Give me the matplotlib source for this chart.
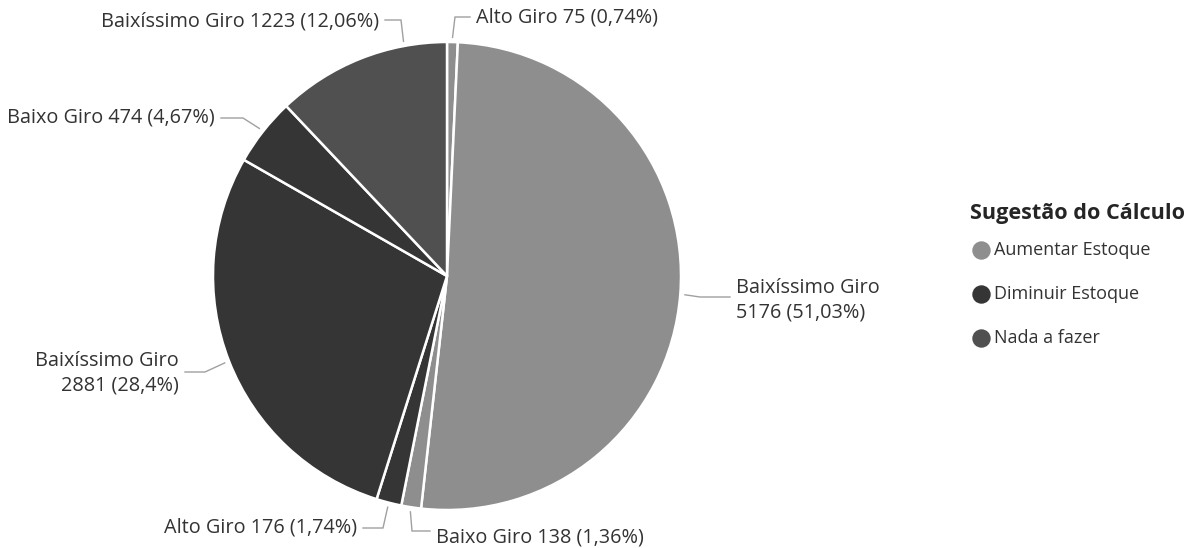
import numpy as np
import matplotlib
matplotlib.use("Agg")
import matplotlib.pyplot as plt

# ---- data ----
labels = ["Alto Giro", "Baixíssimo Giro", "Baixo Giro",
          "Alto Giro", "Baixíssimo Giro", "Baixo Giro",
          "Baixíssimo Giro"]
values = [75, 5176, 138, 176, 2881, 474, 1223]
pct_text = ["0,74%", "51,03%", "1,36%", "1,74%", "28,4%", "4,67%", "12,06%"]
groups = ["Aumentar Estoque", "Aumentar Estoque", "Aumentar Estoque",
          "Diminuir Estoque", "Diminuir Estoque", "Diminuir Estoque",
          "Nada a fazer"]
legend_title = "Sugestão do Cálculo"
legend_items = ["Aumentar Estoque", "Diminuir Estoque", "Nada a fazer"]

# ---- style ----
colors = {"Aumentar Estoque": "#8e8e8e",
          "Diminuir Estoque": "#353535",
          "Nada a fazer": "#505050"}
FONT = ["Open Sans", "DejaVu Sans"]
plt.rcParams['font.family'] = FONT
W, H = 1200, 548
CX, CY, R = 447, 276, 234   # pixel coords (top-down y)

def py(y):  # top-down pixel -> data
    return H - y

fig = plt.figure(figsize=(12, 5.48), dpi=100)
ax = fig.add_axes([0, 0, 1, 1])

wedges, _ = ax.pie(values, colors=[colors[g] for g in groups],
                   startangle=90, counterclock=False,
                   center=(CX, py(CY)), radius=R,
                   wedgeprops=dict(edgecolor="white", linewidth=1.8),
                   frame=True)
ax.set_xlim(0, W)
ax.set_ylim(0, H)
ax.set_aspect("equal")
ax.axis("off")

# label layout: elbow point (top-down px), side, horizontal length, text y,
# optional anchor angle (deg) on the rim
layout = [
    dict(ex=455, ey=17, side=1, hl=15, two=False, ty=17),
    dict(ex=700, ey=297, side=1, hl=30, two=True, ty=300),
    dict(ex=412, ey=531, side=1, hl=18, two=False, ty=537),
    dict(ex=383, ey=528, side=-1, hl=20, two=False, ty=528),
    dict(ex=205, ey=372, side=-1, hl=20, two=True, ty=373),
    dict(ex=243, ey=118, side=-1, hl=22, two=False, ty=118),
    dict(ex=401, ey=20, side=-1, hl=16, two=False, ty=22, anchor=100.5),
]
line_c = "#a0a0a0"
text_c = "#333333"
fs = 14.3

for w, lab, v, p, lo in zip(wedges, labels, values, pct_text, layout):
    a_deg = lo.get("anchor", (w.theta1 + w.theta2) / 2)
    ang = np.deg2rad(a_deg)
    c, s = np.cos(ang), np.sin(ang)
    x0, y0 = CX + R * 1.02 * c, CY - R * 1.02 * s
    ex, ey = lo["ex"], lo["ey"]
    hx = ex + lo["side"] * lo["hl"]
    ax.plot([x0, ex, hx], [py(y0), py(ey), py(ey)], color=line_c, lw=1.0,
            solid_joinstyle="miter")
    tx = hx + 6 * lo["side"]
    ha = "left" if lo["side"] > 0 else "right"
    if lo["two"]:
        txt = f"{lab}\n{v} ({p})"
    else:
        txt = f"{lab} {v} ({p})"
    ax.text(tx, py(lo["ty"]), txt, ha=ha, va="center", fontsize=fs,
            color=text_c, linespacing=1.3)

# legend
ax.text(970, py(213), legend_title, fontsize=15.6, fontweight="bold",
        color="#252525", ha="left", va="center")
for i, item in enumerate(legend_items):
    y = 250 + i * 44
    ax.scatter([981], [py(y)], s=150, color=colors[item], zorder=3)
    ax.text(994, py(y), item, fontsize=13, color=text_c,
            ha="left", va="center")

fig.savefig("out.png", dpi=100)
